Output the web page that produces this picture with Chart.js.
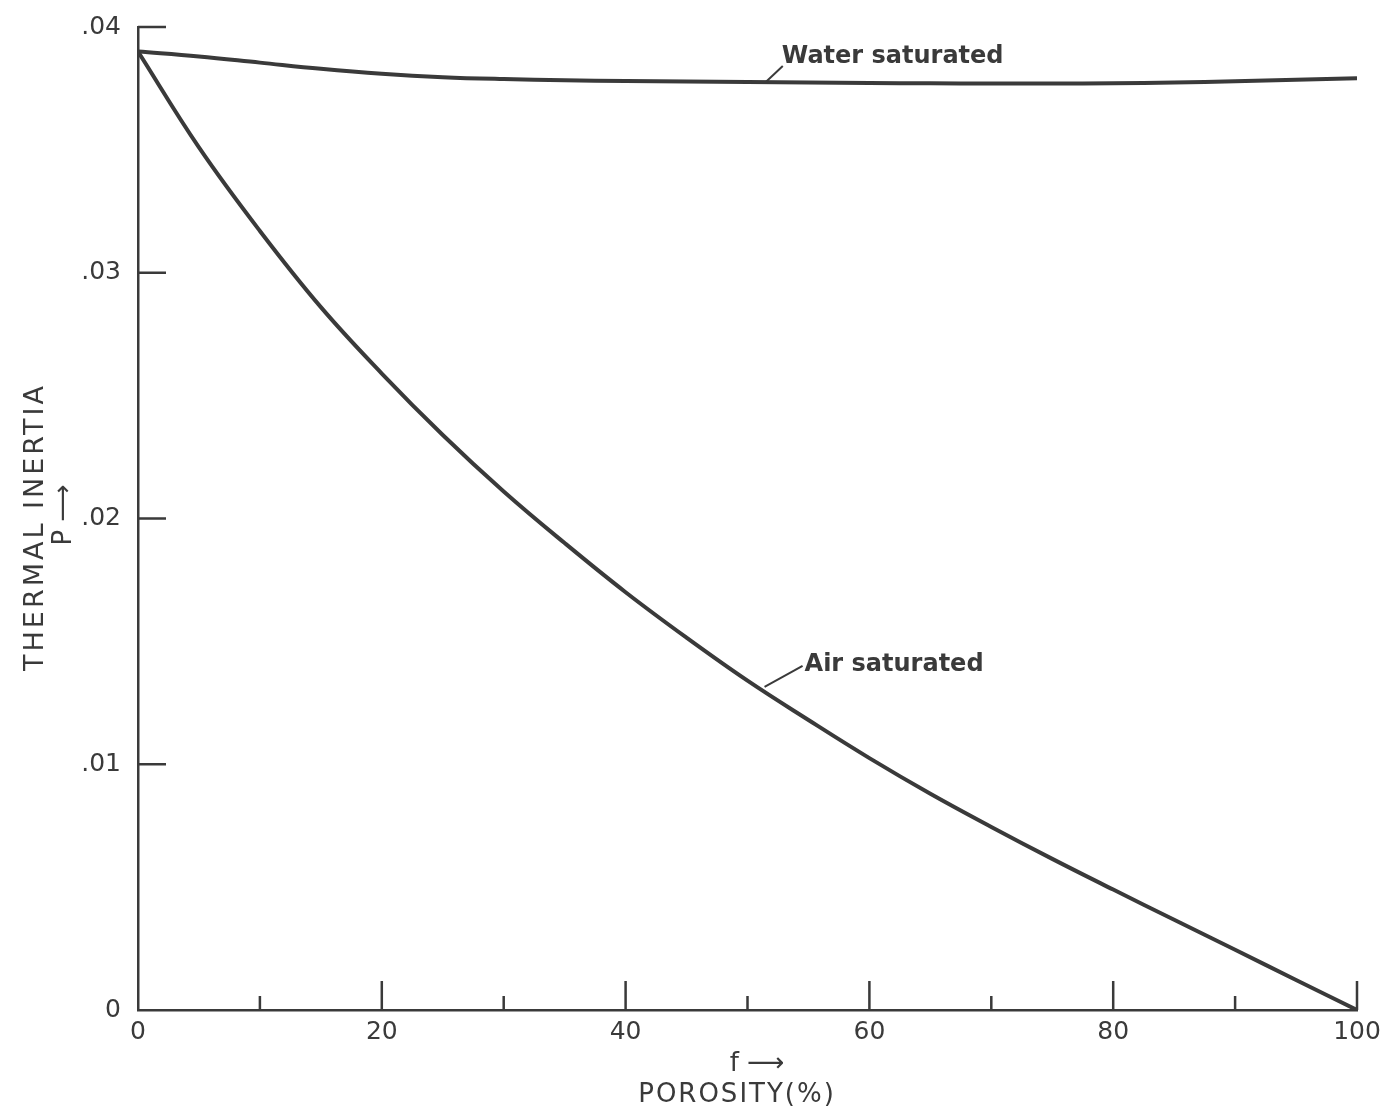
<!DOCTYPE html>
<html>
<head>
<meta charset="utf-8">
<script src="https://cdn.jsdelivr.net/npm/chart.js@4"></script>
<style>
  body { margin: 0; background: #fff; }
  #wrap { width: 1384px; height: 1112px; }
</style>
</head>
<body>
<div id="wrap"><canvas id="inertiaChart" width="1384" height="1112"></canvas></div>
<script>
// Porosity f (%) and thermal inertia P
const porosity = [0, 5, 10, 15, 20, 25, 30, 35, 40, 45, 50, 55, 60, 65, 70, 75, 80, 85, 90, 95, 100];
const waterSaturated = [0.0390, 0.03880, 0.03855, 0.03830, 0.03810, 0.03796, 0.03788, 0.03783, 0.03780, 0.03778, 0.03776, 0.03774, 0.03772, 0.03771, 0.03770, 0.03770, 0.03771, 0.03774, 0.03779, 0.03785, 0.03791];
const airSaturated = [0.0390, 0.0351, 0.0317, 0.0286, 0.0259, 0.0234, 0.0211, 0.0190, 0.0170, 0.01515, 0.0134, 0.0118, 0.01025, 0.0088, 0.00745, 0.00615, 0.0049, 0.00367, 0.00245, 0.00122, 0];

const xTicks = [0, 20, 40, 60, 80, 100];
const xTickLabels = ['0', '20', '40', '60', '80', '100'];
const xMinorTicks = [10, 30, 50, 70, 90];
const yTicks = [0, 0.01, 0.02, 0.03, 0.04];
const yTickLabels = ['0', '.01', '.02', '.03', '.04'];

const ink = '#3a3a3a';

const toPoints = ys => porosity.map((f, i) => ({ x: f, y: ys[i] }));

// keep label overhang from shrinking the plot area
const noScalePadding = s => {
    s.paddingTop = 0;
    s.paddingBottom = 0;
    s.paddingLeft = 0;
    s.paddingRight = 0;
};

// inward tick marks, axis titles and curve labels
const decorations = {
    id: 'decorations',
    afterDraw(chart) {
        const { ctx, scales: { x, y } } = chart;
        const x0 = x.getPixelForValue(0);
        const yBase = y.getPixelForValue(0);
        ctx.save();
        ctx.strokeStyle = ink;
        ctx.fillStyle = ink;
        ctx.lineWidth = 2.5;

        ctx.beginPath();
        yTicks.forEach(v => {
            if (v === 0) return;
            const py = y.getPixelForValue(v);
            ctx.moveTo(x0, py);
            ctx.lineTo(x0 + 28, py);
        });
        xTicks.forEach(v => {
            if (v === 0) return;
            const px = x.getPixelForValue(v);
            ctx.moveTo(px, yBase);
            ctx.lineTo(px, yBase - 29);
        });
        xMinorTicks.forEach(v => {
            const px = x.getPixelForValue(v);
            ctx.moveTo(px, yBase);
            ctx.lineTo(px, yBase - 14);
        });
        ctx.stroke();

        // y axis title
        ctx.save();
        ctx.translate(36, 527);
        ctx.rotate(-Math.PI / 2);
        ctx.textAlign = 'center';
        ctx.textBaseline = 'middle';
        ctx.font = '27px "DejaVu Sans"';
        ctx.letterSpacing = '3px';
        ctx.fillText('THERMAL INERTIA', 0, 0);
        ctx.restore();

        ctx.save();
        ctx.translate(64, 515);
        ctx.rotate(-Math.PI / 2);
        ctx.textAlign = 'center';
        ctx.textBaseline = 'middle';
        ctx.font = '26px "DejaVu Sans"';
        ctx.fillText('P \u27F6', 0, 0);
        ctx.restore();

        // x axis title
        ctx.textAlign = 'center';
        ctx.textBaseline = 'middle';
        ctx.font = '26px "DejaVu Sans"';
        ctx.fillText('f \u27F6', 757, 1064);
        ctx.letterSpacing = '2px';
        ctx.fillText('POROSITY(%)', 737, 1095);
        ctx.letterSpacing = '0px';

        // curve labels with leader lines
        ctx.font = 'bold 24px "DejaVu Sans"';
        ctx.textAlign = 'left';
        ctx.lineWidth = 2;
        const wx = x.getPixelForValue(51.5), wy = y.getPixelForValue(0.03776);
        ctx.beginPath();
        ctx.moveTo(wx, wy);
        ctx.lineTo(wx + 17, wy - 16);
        ctx.stroke();
        ctx.fillText('Water saturated', wx + 16, wy - 25);

        const ax = x.getPixelForValue(51.4), ay = y.getPixelForValue(0.01315);
        ctx.beginPath();
        ctx.moveTo(ax, ay);
        ctx.lineTo(ax + 38, ay - 21);
        ctx.stroke();
        ctx.fillText('Air saturated', ax + 40, ay - 22);
        ctx.restore();
    }
};

const lineStyle = {
    borderColor: ink,
    borderWidth: 4,
    pointRadius: 0,
    fill: false,
    showLine: true,
    tension: 0.4
};

new Chart(document.getElementById('inertiaChart'), {
    type: 'scatter',
    data: {
        datasets: [
            { label: 'Water saturated', data: toPoints(waterSaturated), ...lineStyle },
            { label: 'Air saturated', data: toPoints(airSaturated), ...lineStyle }
        ]
    },
    options: {
        responsive: false,
        animation: false,
        layout: { padding: { top: 27, right: 27, left: 0, bottom: 0 } },
        plugins: { legend: { display: false }, tooltip: { enabled: false } },
        scales: {
            x: {
                type: 'linear',
                min: 0,
                max: 100,
                afterFit: s => { s.height = 102; noScalePadding(s); },
                afterBuildTicks: s => { s.ticks = xTicks.map(v => ({ value: v })); },
                grid: { display: false, drawTicks: false },
                border: { display: true, color: ink, width: 2.5 },
                ticks: {
                    color: ink,
                    padding: 7,
                    maxRotation: 0,
                    font: { family: 'DejaVu Sans', size: 25 },
                    callback: (v, i) => xTickLabels[i]
                }
            },
            y: {
                type: 'linear',
                min: 0,
                max: 0.04,
                afterFit: s => { s.width = 138; noScalePadding(s); },
                afterBuildTicks: s => { s.ticks = yTicks.map(v => ({ value: v })); },
                grid: { display: false, drawTicks: false },
                border: { display: true, color: ink, width: 2.5 },
                ticks: {
                    color: ink,
                    padding: 17,
                    font: { family: 'DejaVu Sans', size: 25 },
                    callback: (v, i) => yTickLabels[i]
                }
            }
        }
    },
    plugins: [decorations]
});
</script>
</body>
</html>
